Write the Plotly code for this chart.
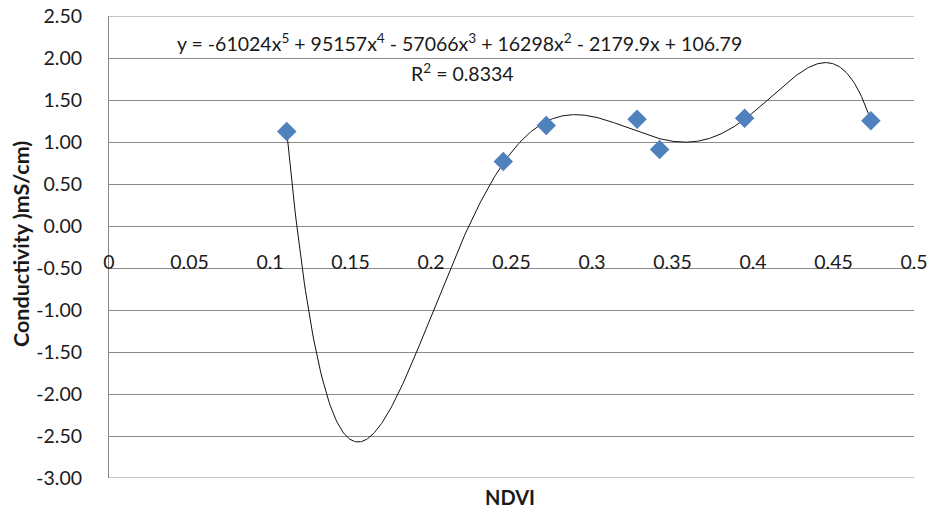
import numpy as np
import plotly.graph_objects as go

# Data
ndvi = [0.1104, 0.2449, 0.2716, 0.3280, 0.3420, 0.3948, 0.4732]
conductivity = [1.124, 0.768, 1.197, 1.270, 0.910, 1.284, 1.254]
x_ticks = [0, 0.05, 0.1, 0.15, 0.2, 0.25, 0.3, 0.35, 0.4, 0.45, 0.5]
x_tick_labels = ["0", "0.05", "0.1", "0.15", "0.2", "0.25", "0.3", "0.35", "0.4", "0.45", "0.5"]
y_ticks = [2.5, 2.0, 1.5, 1.0, 0.5, 0.0, -0.5, -1.0, -1.5, -2.0, -2.5, -3.0]
y_tick_labels = ["2.50", "2.00", "1.50", "1.00", "0.50", "0.00", "-0.50", "-1.00", "-1.50", "-2.00", "-2.50", "-3.00"]
equation_text = ("y = -61024x<sup>5</sup> + 95157x<sup>4</sup> - 57066x<sup>3</sup> + "
                 "16298x<sup>2</sup> - 2179.9x + 106.79")
r2_text = "R<sup>2</sup> = 0.8334"
x_title = "NDVI"
y_title = "Conductivity )mS/cm)"

# 5th-order polynomial trendline fitted to the points
coef_fit = np.polyfit(ndvi, conductivity, 5)
xs = np.linspace(min(ndvi), max(ndvi), 500)
ys = np.polyval(coef_fit, xs)

FONT = "Lato"
TXT = "#1a1a1a"
GRID = "#8a8a8a"

fig = go.Figure()
fig.add_trace(go.Scatter(x=xs, y=ys, mode="lines",
                         line=dict(color="#111111", width=1), hoverinfo="skip"))
fig.add_trace(go.Scatter(x=ndvi, y=conductivity, mode="markers",
                         marker=dict(symbol="diamond", size=15, color="#4F81BD")))

fig.update_layout(
    width=928, height=509,
    margin=dict(l=109, r=14, t=16, b=31),
    paper_bgcolor="white", plot_bgcolor="white",
    showlegend=False,
    font=dict(family=FONT, size=19, color=TXT),
    xaxis=dict(range=[0, 0.5], tickvals=x_ticks, ticktext=x_tick_labels,
               showgrid=False, zeroline=False, showline=False,
               anchor="free", position=3 / 5.5, ticks="", ticklabelstandoff=22,
               automargin=False,
               tickfont=dict(family=FONT, size=19.5, color=TXT)),
    yaxis=dict(range=[-3, 2.5], tickvals=y_ticks, ticktext=y_tick_labels,
               showgrid=True, gridcolor=GRID, gridwidth=1,
               zeroline=False, showline=True, linecolor=GRID, linewidth=1,
               ticks="", ticklabelstandoff=22, automargin=False,
               tickfont=dict(family=FONT, size=19.5, color=TXT)),
)
# top and bottom gridlines (plotly drops gridlines lying on the plot edges)
for yv in (y_ticks[0], y_ticks[-1]):
    fig.add_shape(type="line", xref="paper", yref="y", x0=0, x1=1, y0=yv, y1=yv,
                  line=dict(color=GRID, width=1), layer="below")

fig.add_annotation(xref="paper", yref="paper", x=(510 - 109) / 805, y=(478 - 497) / 462,
                   xanchor="center", yanchor="middle", text="<b>%s</b>" % x_title, showarrow=False,
                   font=dict(family=FONT, size=20, color=TXT))
fig.add_annotation(xref="paper", yref="paper", x=(21 - 109) / 805, y=(478 - 244) / 462,
                   xanchor="center", yanchor="middle",
                   textangle=-90, text="<b>%s</b>" % y_title, showarrow=False,
                   font=dict(family=FONT, size=21.5, color=TXT))
fig.add_annotation(xref="paper", yref="paper", x=(459 - 109) / 805, y=(478 - 43) / 462,
                   xanchor="center", yanchor="middle", text=equation_text, showarrow=False,
                   font=dict(family=FONT, size=19.5, color=TXT))
fig.add_annotation(xref="paper", yref="paper", x=(462 - 109) / 805, y=(478 - 72) / 462,
                   xanchor="center", yanchor="middle", text=r2_text, showarrow=False,
                   font=dict(family=FONT, size=19.5, color=TXT))
fig.write_html("out.html", post_script="document.body.style.margin='0';",
               config={"displayModeBar": False})
